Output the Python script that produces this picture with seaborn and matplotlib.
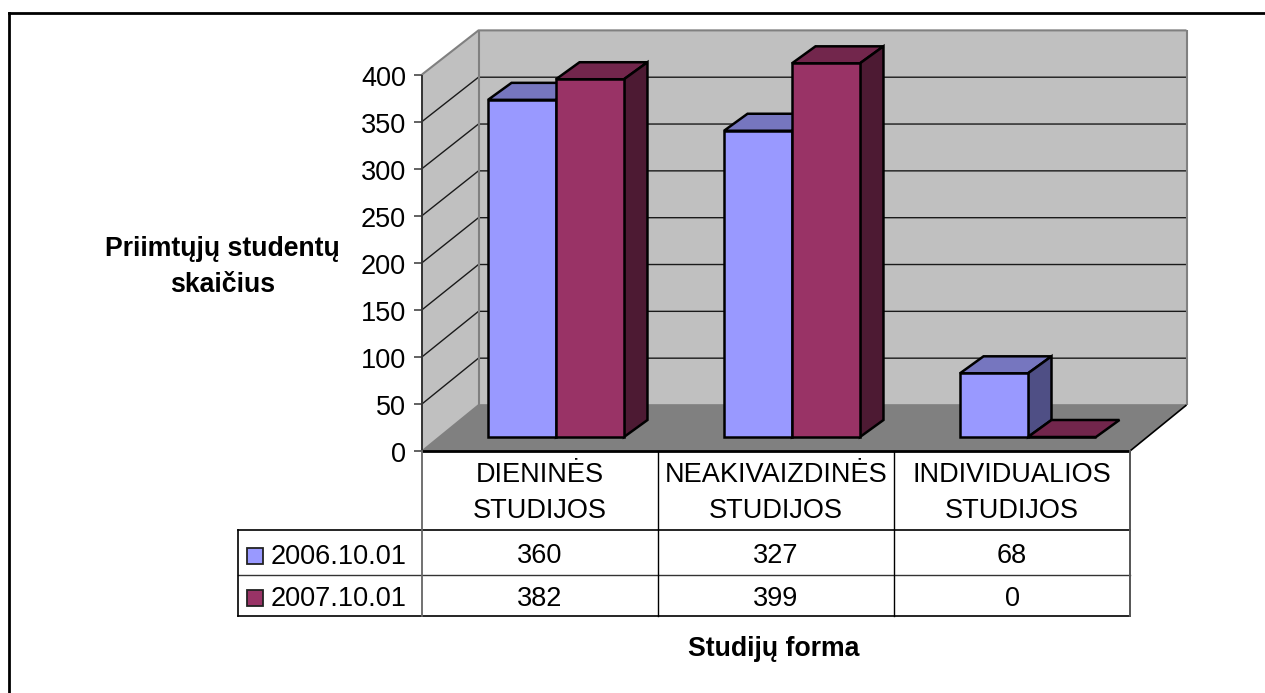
import matplotlib
matplotlib.use("Agg")
import matplotlib.pyplot as plt
from matplotlib.lines import Line2D
from matplotlib.patches import Polygon, Rectangle
import numpy as np
import pandas as pd
import seaborn as sns

categories = ["DIENINĖS\nSTUDIJOS", "NEAKIVAIZDINĖS\nSTUDIJOS", "INDIVIDUALIOS\nSTUDIJOS"]
series_names = ["2006.10.01", "2007.10.01"]
values_2006 = [360, 327, 68]
values_2007 = [382, 399, 0]
y_ticks = [0, 50, 100, 150, 200, 250, 300, 350, 400]
front_colors = ["#9999FF", "#993366"]
top_colors = ["#7676BF", "#72264C"]
side_colors = ["#4F4F85", "#4D1A33"]

W, H = 1265, 693
sns.set_theme(style="white")
plt.rcParams["font.family"] = ["Liberation Sans", "DejaVu Sans"]
plt.rcParams["text.color"] = "black"
fig = plt.figure(figsize=(W / 100, H / 100), dpi=100)

AX_L, AX_R, AX_T, AX_B = 422, 1130, 74.5, 451
ax = fig.add_axes([AX_L / W, 1 - AX_B / H, (AX_R - AX_L) / W, (AX_B - AX_T) / H])

df = pd.DataFrame({
    "forma": categories * 2,
    "metai": np.repeat(series_names, 3),
    "n": values_2006 + values_2007,
})
sns.barplot(data=df, x="forma", y="n", hue="metai", palette=front_colors, width=0.576,
            gap=0, saturation=1, legend=False, ax=ax, edgecolor="black", linewidth=1.8,
            dodge=True, errorbar=None)
ax.set_xlim(-0.5, 2.5)
ax.set_ylim(0, 400)
ax.set_xlabel("")
ax.set_ylabel("")
ax.set_xticks([])
ax.set_yticks([])
for s in ax.spines.values():
    s.set_visible(False)

px_x = 3 / (AX_R - AX_L)
px_y = 400 / (AX_B - AX_T)
DX, DY = 56.5 * px_x, 46 * px_y        # wall depth in data units
BX, BY = 23.5 * px_x, 17 * px_y        # bar depth
OX, OY = 16 * px_x, 14 * px_y          # bar offset from front plane
BACK = 0.995                           # planes further back are slightly shorter
x0, x1 = -0.5, 2.5
top = 400


def back_y(t):
    return DY + t * BACK


def poly(pts, fc, ec="none", lw=1.0, z=1):
    ax.add_patch(Polygon(pts, closed=True, facecolor=fc, edgecolor=ec, linewidth=lw,
                         zorder=z, clip_on=False, joinstyle="miter"))


def line(xs, ys, c="black", lw=1.0, z=1.5):
    ax.add_line(Line2D(xs, ys, color=c, lw=lw, zorder=z, clip_on=False, solid_capstyle="butt"))


# walls and floor
poly([(x0, 0), (x0 + DX, back_y(0)), (x1 + DX, back_y(0)), (x1 + DX, back_y(top)),
      (x0 + DX, back_y(top)), (x0, top)], "#C0C0C0")
poly([(x0, 0), (x0 + DX, back_y(0)), (x1 + DX, back_y(0)), (x1, 0)], "#808080")
for t in y_ticks[1:-1]:
    line([x0, x0 + DX, x1 + DX], [t, back_y(t), back_y(t)], "#1a1a1a", 1.0)
line([x0, x0 + DX, x1 + DX], [top, back_y(top), back_y(top)], "#808080", 1.5)
line([x0 + DX, x0 + DX], [back_y(0), back_y(top)], "#808080", 1.5)
line([x1 + DX, x1 + DX], [back_y(0), back_y(top)], "#808080", 1.5)
line([x0, x0 + DX, x1 + DX], [0, back_y(0), back_y(0)], "#808080", 1.2)
line([x1, x1 + DX], [0, back_y(0)], "black", 1.2, z=1.6)
line([x0, x1], [0, 0], "black", 2.0, z=1.6)
line([x0, x0], [0, top], "#333333", 1.4, z=1.6)

# y ticks
for t in y_ticks:
    line([x0 - 8 * px_x, x0], [t, t], "#555555", 1.3)
    ax.text(x0 - 16 * px_x, t - 1.5 * px_y, str(t), ha="right", va="center_baseline", fontsize=19.5,
            color="black", clip_on=False)

# 3D bars built from the seaborn bar geometry
bars = [b for b in ax.patches if isinstance(b, Rectangle)][:6]
for i, b in enumerate(bars):
    s = i // 3
    cat = i % 3
    z = 3 + cat + s * 0.4
    b.set_x(b.get_x() + OX)
    b.set_y(b.get_y() + OY)
    b.set_height(b.get_height() * BACK)
    b.set_clip_on(False)
    b.set_zorder(z + 0.1)
    bx, by, bw, bh = b.get_x(), b.get_y(), b.get_width(), b.get_height()
    poly([(bx, by + bh), (bx + BX, by + bh + BY), (bx + bw + BX, by + bh + BY), (bx + bw, by + bh)],
         top_colors[s], "black", 1.8, z)
    if bh > 0:
        poly([(bx + bw, by), (bx + bw + BX, by + BY), (bx + bw + BX, by + bh + BY), (bx + bw, by + bh)],
             side_colors[s], "black", 1.8, z)


# table and outer text, in figure pixels
def fx(x):
    return x / W


def fy(y):
    return 1 - y / H


def fline(x, y, c="black", lw=1.0):
    fig.add_artist(Line2D([fx(v) for v in x], [fy(v) for v in y], color=c, lw=lw,
                          solid_capstyle="projecting"))


def ftext(x, y, s, **kw):
    fig.text(fx(x), fy(y), s, ha=kw.pop("ha", "center"), va="center", color="black", **kw)


col_x = [422, 658, 894, 1130]
T_L, T_TOP, T_MID, T_BOT = 238, 530, 575, 616
fline([T_L, 1130], [T_TOP, T_TOP], "black", 1.2)
fline([T_L, 1130], [T_MID, T_MID], "#333333", 1.0)
fline([T_L, 1130], [T_BOT, T_BOT], "black", 1.2)
fline([T_L, T_L], [T_TOP, T_BOT], "black", 1.2)
fline([col_x[0], col_x[0]], [451, T_BOT], "#666666", 1.3)
for cx in col_x[1:3]:
    fline([cx, cx], [451, T_BOT], "black", 1.0)
fline([col_x[3], col_x[3]], [451, T_BOT], "#555555", 1.4)

for i, c in enumerate(categories):
    cx = (col_x[i] + col_x[i + 1]) / 2
    a, b = c.split("\n")
    ftext(cx, 475, a, fontsize=19.5)
    ftext(cx, 511, b, fontsize=19.5)
    ftext(cx, 556, str(values_2006[i]), fontsize=19.5)
    ftext(cx, 599.5, str(values_2007[i]), fontsize=19.5)

for name, yc, col in zip(series_names, [556, 598], front_colors):
    fig.add_artist(Rectangle((fx(247), fy(yc + 8)), 16 / W, 16 / H, transform=fig.transFigure,
                             facecolor=col, edgecolor="#222222", lw=1.3))
    ftext(271, yc + 1.5, name, ha="left", fontsize=19.5)

ftext(222.5, 249.5, "Priimtųjų studentų", fontsize=19.2, fontweight="bold")
ftext(222.5, 284.5, "skaičius", fontsize=19.2, fontweight="bold")
ftext(774, 649, "Studijų forma", fontsize=19.2, fontweight="bold")

# outer frame: only the top and left edges are visible in the picture
fline([8.5, W + 5], [13, 13], "black", 2.0)
fline([8.5, 8.5], [13, H + 5], "black", 2.0)

fig.savefig("out.png", dpi=100, facecolor="white")
